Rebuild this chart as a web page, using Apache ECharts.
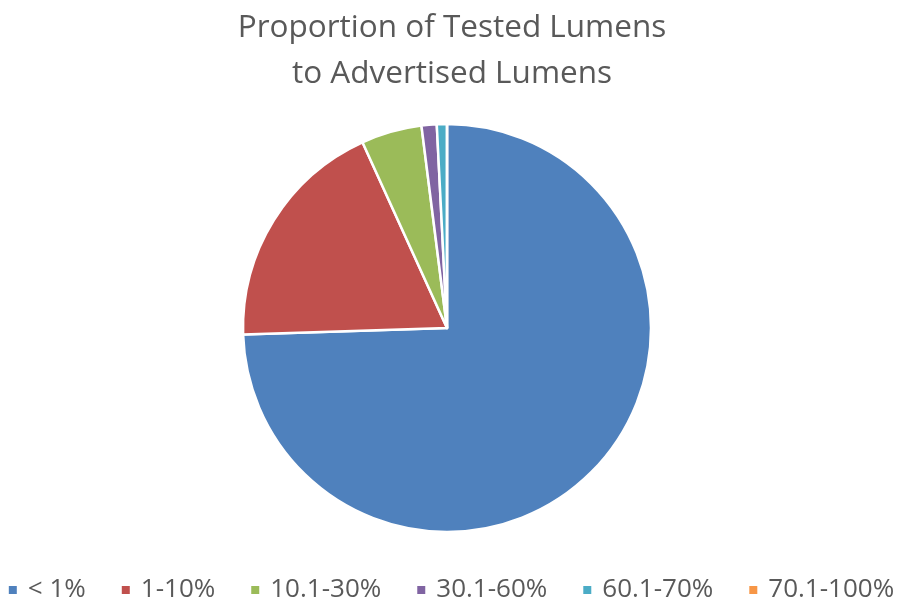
<!DOCTYPE html>
<html>
<head>
<meta charset="utf-8">
<script src="https://cdn.jsdelivr.net/npm/echarts@6/dist/echarts.min.js"></script>
<style>
    html, body { margin: 0; padding: 0; background: #fff; }
    #main { width: 901px; height: 600px; }
</style>
</head>
<body>
<div id="main"></div>
<script>
    // data (percent of tested samples)
    var categories = ['< 1%', '1-10%', '10.1-30%', '30.1-60%', '60.1-70%', '70.1-100%'];
    var shares = [74.5, 18.7, 4.8, 1.2, 0.8, 0];
    var colors = ['#4F81BD', '#C0504D', '#9BBB59', '#8064A2', '#4BACC6', '#F79646'];

    var myChart = echarts.init(document.getElementById('main'));
    var option = {
        color: colors,
        textStyle: {fontFamily: 'Open Sans', color: '#595959'},
        title: {
            text: 'Proportion of Tested Lumens\nto Advertised Lumens',
            left: 447,
            textAlign: 'center',
            top: 0,
            textStyle: {
                fontFamily: 'Open Sans',
                fontWeight: 'normal',
                fontSize: 31.5,
                lineHeight: 46,
                color: '#595959'
            }
        },
        legend: {
            top: 572,
            left: 'center',
            icon: 'rect',
            itemWidth: 10,
            itemHeight: 10,
            itemGap: 34,
            textStyle: {fontSize: 26, color: '#595959', fontFamily: 'Open Sans', padding: [0, 0, 0, 5]},
            data: categories
        },
        series: [{
            type: 'pie',
            center: [447, 328],
            radius: 204,
            startAngle: 90,
            clockwise: true,
            label: {show: false},
            labelLine: {show: false},
            emphasis: {disabled: true},
            itemStyle: {borderColor: '#fff', borderWidth: 2.5},
            data: categories.map(function (c, i) {
                return {name: c, value: shares[i]};
            })
        }]
    };
    myChart.setOption(option);
</script>
</body>
</html>
